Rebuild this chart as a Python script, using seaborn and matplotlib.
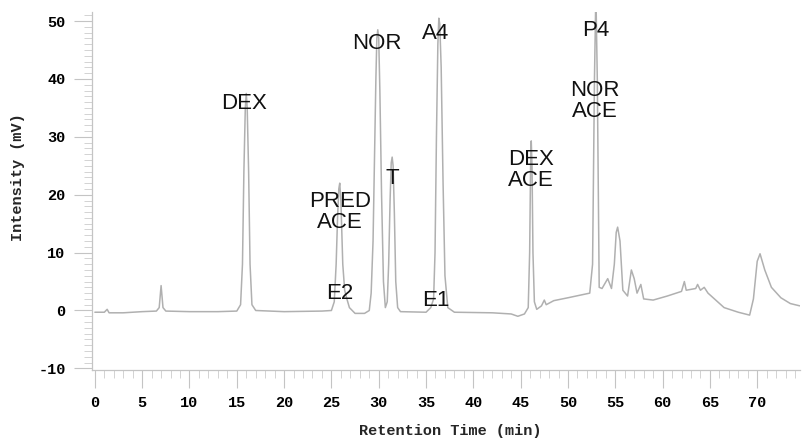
import matplotlib
matplotlib.use("Agg")
import matplotlib.pyplot as plt
import seaborn as sns
import pandas as pd
from matplotlib.ticker import MultipleLocator

# Chromatogram trace (retention time in min, intensity in mV)
time_min = [0.0, 1.0, 1.3, 1.5, 3.0, 5.0, 6.5, 6.8, 7.0, 7.2, 7.5, 10.0, 13.0,
            15.0, 15.4, 15.6, 15.75, 15.9, 16.0, 16.1, 16.25, 16.4, 16.6, 17.0, 20.0, 24.0,
            25.0, 25.3, 25.5, 25.65, 25.78, 25.88, 26.0, 26.2, 26.4, 26.6, 26.9, 27.5, 28.5,
            29.0, 29.2, 29.4, 29.55, 29.7, 29.8, 29.9, 30.0, 30.12, 30.3, 30.5, 30.7,
            30.9, 31.05, 31.2, 31.32, 31.42, 31.52, 31.65, 31.8, 32.0, 32.3, 35.0,
            35.5, 35.8, 35.95, 36.1, 36.25, 36.35, 36.45, 36.6, 36.8, 37.0, 37.3, 38.0, 42.0,
            44.0, 44.7, 45.4, 45.8, 45.95, 46.05, 46.12, 46.2, 46.3, 46.45, 46.7, 47.2, 47.5, 47.7,
            48.5, 50.0, 52.3, 52.6, 52.8, 52.95, 53.1, 53.3, 53.6, 54.2, 54.6,
            54.9, 55.1, 55.25, 55.5, 55.8, 56.3, 56.7, 57.0, 57.3, 57.7, 58.0, 59.0,
            60.5, 62.0, 62.3, 62.5, 63.5, 63.7, 64.0, 64.4, 64.8, 66.5, 68.0,
            69.2, 69.6, 70.0, 70.3, 70.8, 71.5, 72.5, 73.5, 74.5]
intensity_mv = [-0.3, -0.3, 0.2, -0.4, -0.4, -0.2, -0.1, 0.5, 4.3, 0.5, -0.1, -0.2, -0.2,
                -0.1, 1.0, 8.0, 24.0, 35.0, 37.5, 35.0, 24.0, 8.0, 1.0, 0.0, -0.2, -0.1,
                0.0, 1.5, 8.0, 16.0, 21.0, 22.0, 19.0, 8.0, 3.5, 2.2, 0.5, -0.5, -0.5,
                0.0, 3.0, 12.0, 26.0, 40.0, 47.0, 48.5, 47.0, 38.0, 20.0, 5.0, 0.5,
                1.5, 8.0, 19.0, 25.5, 26.5, 25.0, 17.0, 5.0, 0.5, -0.2, -0.3,
                0.5, 2.0, 10.0, 30.0, 46.0, 50.5, 49.5, 42.0, 22.0, 6.0, 0.5, -0.3, -0.4,
                -0.6, -1.0, -0.6, 0.5, 10.0, 25.0, 29.3, 25.0, 10.0, 1.5, 0.2, 0.8, 1.8, 1.0,
                1.7, 2.2, 3.0, 8.0, 40.0, 55.0, 40.0, 4.0, 3.8, 5.5, 3.8,
                8.0, 13.5, 14.4, 12.0, 3.5, 2.5, 7.0, 5.5, 3.0, 4.5, 2.0, 1.8,
                2.5, 3.3, 5.0, 3.5, 3.8, 4.5, 3.5, 4.0, 3.0, 0.5, -0.3,
                -0.8, 2.0, 8.5, 9.8, 7.0, 4.0, 2.2, 1.2, 0.8]

# Peak annotations
peak_names = ["DEX", "PRED\nACE", "E2", "NOR", "T", "A4", "E1", "DEX\nACE", "P4", "NOR\nACE"]
label_time = [15.8, 25.9, 25.9, 29.8, 31.4, 36.0, 36.0, 46.1, 52.9, 52.8]
label_int = [35.7, 17.0, 2.9, 46.2, 22.8, 47.8, 1.7, 24.3, 48.3, 36.2]

x_ticks = [0, 5, 10, 15, 20, 25, 30, 35, 40, 45, 50, 55, 60, 65, 70]
y_ticks = [-10, 0, 10, 20, 30, 40, 50]

df = pd.DataFrame({"Retention Time (min)": time_min, "Intensity (mV)": intensity_mv})

sns.set_theme(style="white")
fig = plt.figure(figsize=(8.03, 4.38), dpi=100)
ax = fig.add_axes([0.1146, 0.155, 0.996 - 0.1146, 0.973 - 0.155])

sns.lineplot(data=df, x="Retention Time (min)", y="Intensity (mV)", ax=ax,
             color="#b0b0b0", linewidth=1.1, estimator=None, sort=False)

ax.set_xlim(-0.3, 74.5)
ax.set_ylim(-10.3, 51.6)

mono = ["Liberation Mono", "DejaVu Sans Mono"]
ax.set_xticks(x_ticks)
ax.set_yticks(y_ticks)
ax.set_xticklabels([str(v) for v in x_ticks], fontfamily=mono, fontweight="bold", fontsize=11)
ax.set_yticklabels([str(v) for v in y_ticks], fontfamily=mono, fontweight="bold", fontsize=11)
ax.xaxis.set_minor_locator(MultipleLocator(1))
ax.yaxis.set_minor_locator(MultipleLocator(1))
ax.tick_params(axis="both", which="major", direction="out", length=13, width=0.8,
               color="#c4c4c4", labelcolor="black")
ax.tick_params(axis="x", which="major", pad=6)
ax.tick_params(axis="y", which="major", pad=6)
ax.tick_params(axis="both", which="minor", direction="out", length=6, width=0.6,
               color="#cccccc")
ax.tick_params(axis="x", which="both", bottom=True)
ax.tick_params(axis="y", which="both", left=True)

ax.set_xlabel("Retention Time (min)", fontfamily=mono, fontweight="bold", fontsize=11)
ax.set_ylabel("Intensity (mV)", fontfamily=mono, fontweight="bold", fontsize=11)
ax.xaxis.set_label_coords(0.506, -0.170)
ax.xaxis.label.set_va("center")
ax.yaxis.set_label_coords(-0.105, 0.539)
ax.yaxis.label.set_va("center")

for s in ["top", "right"]:
    ax.spines[s].set_visible(False)
for s in ["left", "bottom"]:
    ax.spines[s].set_color("#c4c4c4")
    ax.spines[s].set_linewidth(0.9)

for name, tx, ty in zip(peak_names, label_time, label_int):
    ax.text(tx, ty, name, ha="center", va="center", fontsize=16,
            fontfamily=["Liberation Sans", "DejaVu Sans"], color="#111111",
            linespacing=1.0)

fig.savefig("out.png", dpi=100)
